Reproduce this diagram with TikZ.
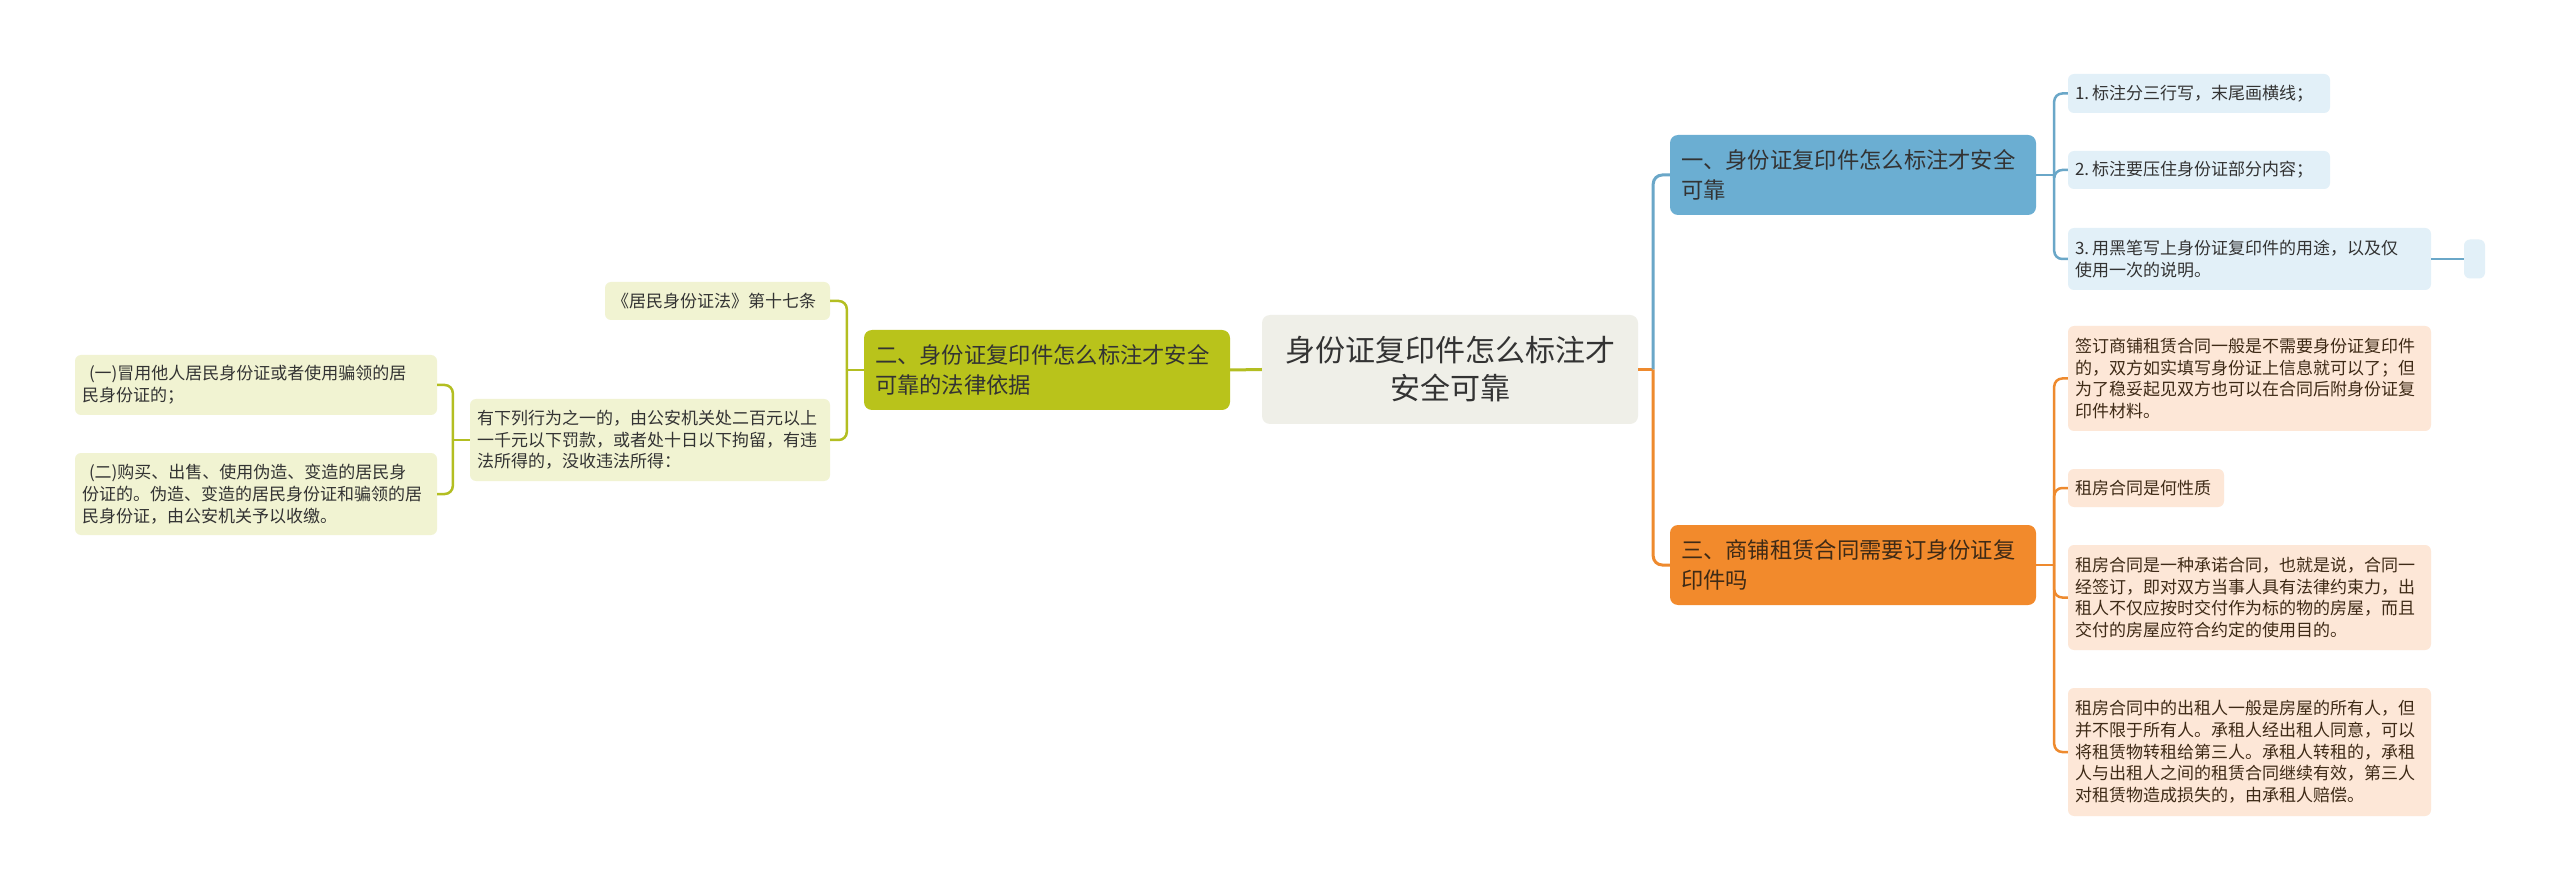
\documentclass[tikz,border=0pt]{standalone}
\usepackage{fontspec}
\setmainfont{Noto Sans CJK SC}
\usepackage{xcolor}
\usepackage{tikz}
\usetikzlibrary{positioning}
\definecolor{inkdark}{HTML}{333333}
\definecolor{inkbrown}{HTML}{3E2A16}
\definecolor{rootfill}{HTML}{EFEFE8}
\definecolor{greenacc}{HTML}{B9C31B}
\definecolor{greenline}{HTML}{B3BE22}
\definecolor{greenleaf}{HTML}{F1F3D2}
\definecolor{blueacc}{HTML}{6BAED2}
\definecolor{blueline}{HTML}{6AA7C8}
\definecolor{blueleaf}{HTML}{E2F0F8}
\definecolor{orangeacc}{HTML}{F28A2C}
\definecolor{orangeline}{HTML}{EE8A2E}
\definecolor{orangeleaf}{HTML}{FDE7D7}

\tikzset{
  topic/.style={rounded corners=8pt,inner xsep=11pt,inner ysep=0pt,align=left,
    minimum height=80pt,text width=344pt,text=inkdark,font=\fontsize{22.3}{30}\selectfont},
  leaf/.style={rounded corners=6pt,inner xsep=7pt,inner ysep=0pt,align=left,
    text=inkdark,font=\fontsize{17}{21.7}\selectfont},
  branch/.style={line width=3pt,rounded corners=9pt},
  twig/.style={line width=2.5pt,rounded corners=8pt}
}

\begin{document}
\begin{tikzpicture}[x=1pt,y=-1pt]
  \useasboundingbox[fill=white] (0,0) rectangle (2560,890);
  % root and main topics
  \node[fill=rootfill,rounded corners=8pt,align=center,text width=360pt,minimum height=109pt,
    inner xsep=8pt,text=inkdark,font=\fontsize{30}{38}\selectfont] (root) at (1450,369.5)
    {身份证复印件怎么标注才\\安全可靠};
  \node[topic,fill=greenacc] (basis) at (1047,370){二、身份证复印件怎么标注才安全\\可靠的法律依据};
  \node[topic,fill=blueacc] (mark) at (1853,175){一、身份证复印件怎么标注才安全\\可靠};
  \node[topic,fill=orangeacc,text=inkbrown] (lease) at (1853,565){三、商铺租赁合同需要订身份证复\\印件吗};

  % blue leaves
  \node[leaf,fill=blueleaf,text width=248pt,minimum height=39pt] (markA) at (2199,93.5){1.\hspace{3pt}标注分三行写，末尾画横线；};
  \node[leaf,fill=blueleaf,text width=248pt,minimum height=38pt] (markB) at (2199,170){2.\hspace{3pt}标注要压住身份证部分内容；};
  \node[leaf,fill=blueleaf,text width=349pt,minimum height=62pt] (markC) at (2249.5,259){3.\hspace{3pt}用黑笔写上身份证复印件的用途，以及仅\\使用一次的说明。};
  \node[fill=blueleaf,rounded corners=6pt,minimum width=21pt,minimum height=39pt,inner sep=0pt] (markD) at (2474.5,259){};

  % orange leaves
  \node[leaf,fill=orangeleaf,text=inkbrown,text width=349pt,minimum height=105pt] (leaseA) at (2249.5,378.5)
    {签订商铺租赁合同一般是不需要身份证复印件\\的，双方如实填写身份证上信息就可以了；但\\为了稳妥起见双方也可以在合同后附身份证复\\印件材料。};
  \node[leaf,fill=orangeleaf,text=inkbrown,text width=142pt,minimum height=38pt] (leaseB) at (2146,488){租房合同是何性质};
  \node[leaf,fill=orangeleaf,text=inkbrown,text width=349pt,minimum height=105pt] (leaseC) at (2249.5,597.5)
    {租房合同是一种承诺合同，也就是说，合同一\\经签订，即对双方当事人具有法律约束力，出\\租人不仅应按时交付作为标的物的房屋，而且\\交付的房屋应符合约定的使用目的。};
  \node[leaf,fill=orangeleaf,text=inkbrown,text width=349pt,minimum height=128pt] (leaseD) at (2249.5,752)
    {租房合同中的出租人一般是房屋的所有人，但\\并不限于所有人。承租人经出租人同意，可以\\将租赁物转租给第三人。承租人转租的，承租\\人与出租人之间的租赁合同继续有效，第三人\\对租赁物造成损失的，由承租人赔偿。};

  % green leaves
  \node[leaf,fill=greenleaf,text width=211pt,minimum height=38pt] (law) at (717.5,301){《居民身份证法》第十七条};
  \node[leaf,fill=greenleaf,text width=346pt,minimum height=82pt] (fine) at (650,440)
    {有下列行为之一的，由公安机关处二百元以上\\一千元以下罚款，或者处十日以下拘留，有违\\法所得的，没收违法所得：};
  \node[leaf,fill=greenleaf,text width=348pt,minimum height=60pt] (actA) at (256,385)
    {\hspace*{7pt}(一)冒用他人居民身份证或者使用骗领的居\\民身份证的；};
  \node[leaf,fill=greenleaf,text width=348pt,minimum height=82pt] (actB) at (256,494)
    {\hspace*{7pt}(二)购买、出售、使用伪造、变造的居民身\\份证的。伪造、变造的居民身份证和骗领的居\\民身份证，由公安机关予以收缴。};

  % connectors
  \draw[branch,greenline] (root.west) -- (basis.east);
  \draw[line width=3pt,orangeline] (root.east) -- ++(15,0) coordinate (jR);
  \draw[branch,orangeline] (jR) |- (lease.west);
  \draw[branch,blueline] (jR) |- (mark.west);

  \draw[line width=2.5pt,blueline] (mark.east) -- ++(18,0) coordinate (jB);
  \foreach \n in {markA,markB,markC}
    \draw[twig,blueline] (jB) |- (\n.west);
  \draw[line width=2.5pt,blueline] (markC.east) -- (markD.west);

  \draw[line width=2.5pt,orangeline] (lease.east) -- ++(18,0) coordinate (jO);
  \foreach \n in {leaseA,leaseB,leaseC,leaseD}
    \draw[twig,orangeline] (jO) |- (\n.west);

  \draw[line width=2.5pt,greenline] (basis.west) -- ++(-17,0) coordinate (jG);
  \foreach \n in {law,fine}
    \draw[twig,greenline] (jG) |- (\n.east);
  \draw[line width=2.5pt,greenline] (fine.west) -- ++(-17,0) coordinate (jL);
  \foreach \n in {actA,actB}
    \draw[twig,greenline] (jL) |- (\n.east);
\end{tikzpicture}
\end{document}
